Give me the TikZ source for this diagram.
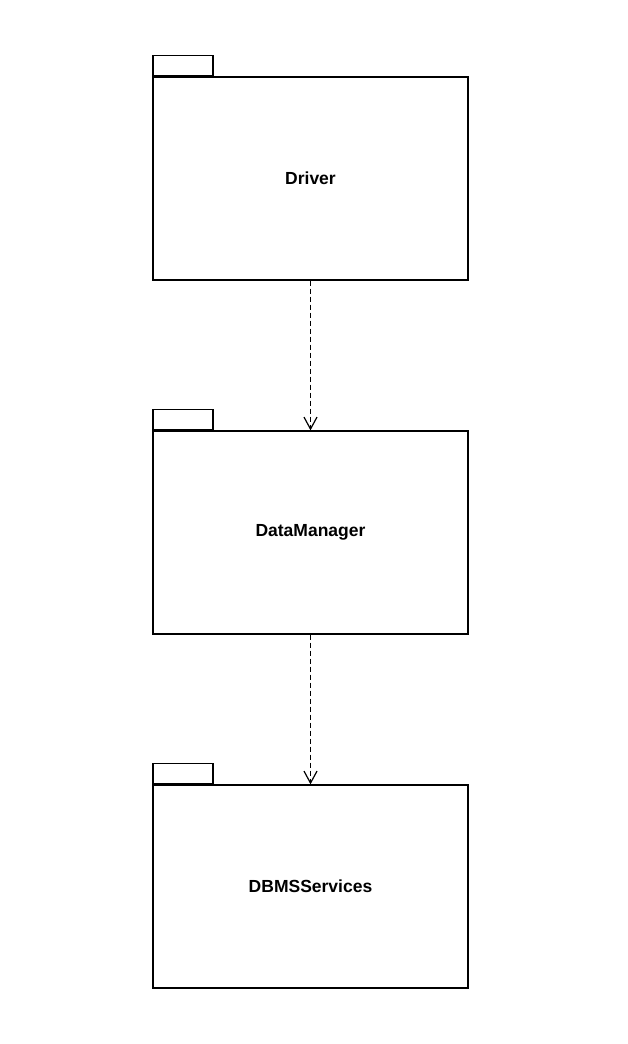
\documentclass[tikz,border=0pt]{standalone}
\usepackage{fontspec}
\setmainfont{Liberation Sans}
\usetikzlibrary{positioning,arrows.meta}
\tikzset{
  pkg/.style={draw,line width=1.3pt,minimum width=315pt,minimum height=203pt,
              inner sep=0pt,font=\fontsize{17.5}{20}\selectfont\bfseries},
  pkgtab/.style={draw,line width=1.3pt,minimum width=60pt,minimum height=20pt,
                 inner sep=0pt,anchor=south west},
  dep/.style={-{Straight Barb[length=12pt,width=13pt]},line width=1.2pt,
              dash pattern=on 5pt off 3pt},
}

\begin{document}
\begin{tikzpicture}[x=1pt,y=-1pt]
\useasboundingbox (0,0) rectangle (628,1044);

% ------------------------------------------------ packages
\node[pkg] (driver) at (310.5,178.5) {Driver};
\node[pkg,below=149.7pt of driver] (datamgr) {DataManager};
\node[pkg,below=149.7pt of datamgr] (dbms) {DBMSServices};

% the little tab on top of each package
\foreach \p in {driver,datamgr,dbms}
  \node[pkgtab] (\p-tab) at (\p.north west) {};

% ------------------------------------------------ dependencies
\draw[dep] (driver.south) -- (datamgr.north);
\draw[dep] (datamgr.south) -- (dbms.north);

\end{tikzpicture}
\end{document}
